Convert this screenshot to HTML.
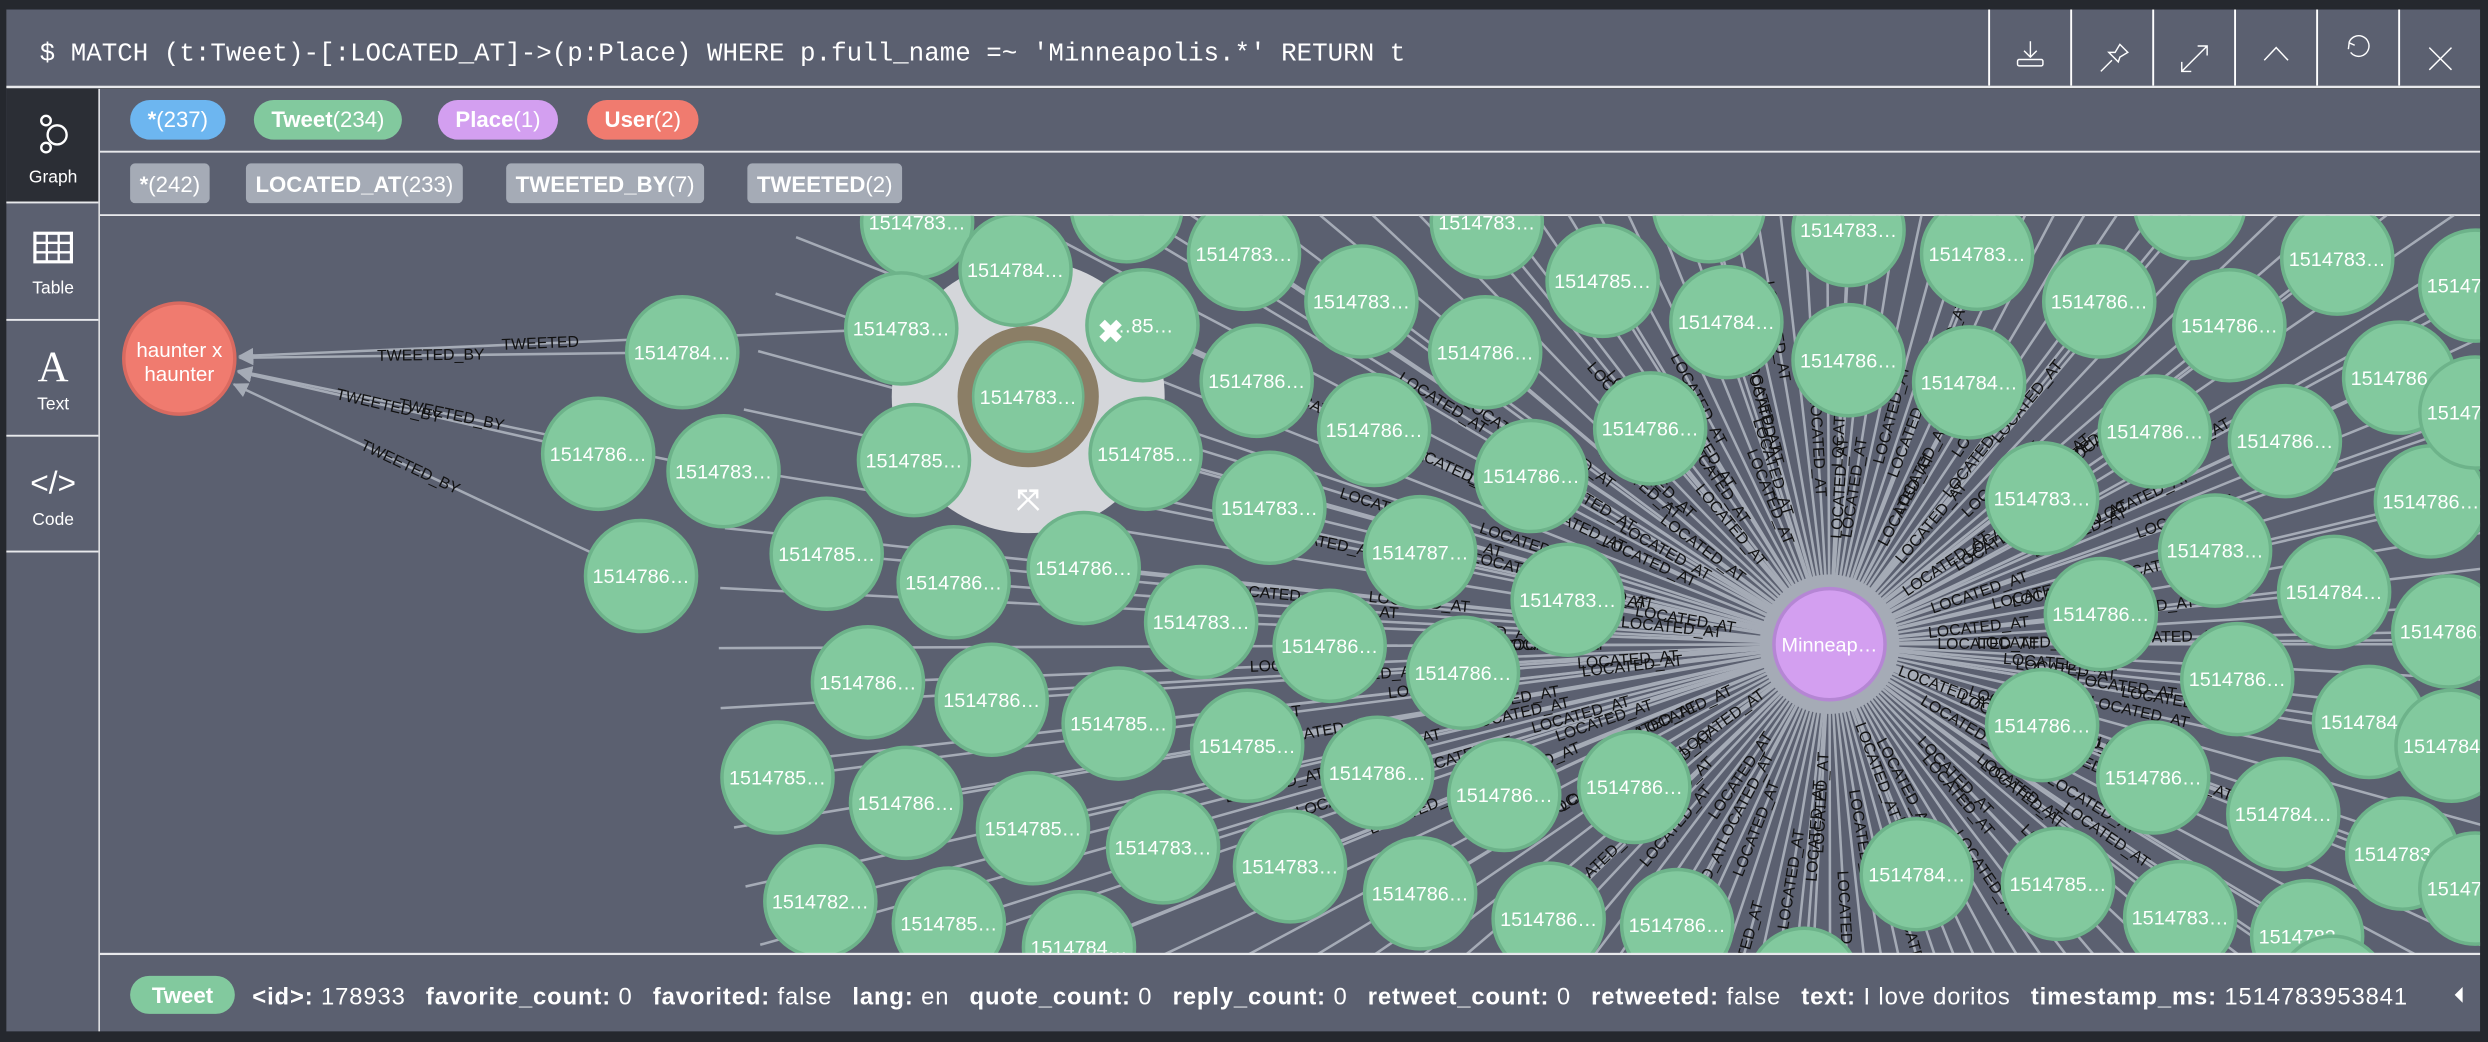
<!DOCTYPE html>
<html><head><meta charset="utf-8"><style>
html,body{margin:0;padding:0;background:#25282e;overflow:hidden;width:2488px;height:1042px}
svg{display:block;position:absolute;left:0;top:0}
text{font-family:"Liberation Sans",sans-serif}
</style></head><body>
<svg id="root" width="2488" height="1042" viewBox="0 0 1568 656.7" preserveAspectRatio="none" xmlns="http://www.w3.org/2000/svg">
<defs>
<clipPath id="gclip"><rect x="63" y="136" width="1500" height="465"/></clipPath>
<marker id="arr" viewBox="0 0 10 10" refX="9" refY="5" markerWidth="6" markerHeight="6" orient="auto"><path d="M0,0L10,5L0,10z" fill="#a5abb6"/></marker>
</defs>
<rect x="0" y="0" width="1568" height="657" fill="#25282e"/>
<g>
<rect x="4" y="6" width="1559" height="48" fill="#5b6070"/>
<text x="25" y="38" fill="#fff" font-size="16.3" style="font-family:'Liberation Mono',monospace">$ MATCH (t:Tweet)-[:LOCATED_AT]-&gt;(p:Place) WHERE p.full_name =~ 'Minneapolis.*' RETURN t</text>
<g stroke="#fff" stroke-width="1.2">
<line x1="1253.6" y1="6" x2="1253.6" y2="54"/><line x1="1305.3" y1="6" x2="1305.3" y2="54"/><line x1="1357" y1="6" x2="1357" y2="54"/><line x1="1408.6" y1="6" x2="1408.6" y2="54"/><line x1="1460.3" y1="6" x2="1460.3" y2="54"/><line x1="1512" y1="6" x2="1512" y2="54"/>
</g>
<g fill="none" stroke="#fff" stroke-width="0.9">
<g><path d="M1279.6,26V36M1275.6,32L1279.6,36L1283.6,32"/><rect x="1271.5" y="37.5" width="16" height="4" rx="1"/></g>
<g><path d="M1324,45L1331,38M1329,33L1335,39L1336,36L1341,33L1336,28L1333,33Z"/></g>
<g><path d="M1375,45L1391,29M1385,29H1391V35M1375,39V45H1381"/></g>
<g><path d="M1427,38L1434.5,30L1442,38"/></g>
<g><circle cx="1486.5" cy="29" r="6.5" stroke-dasharray="34 8" transform="rotate(200 1486.5 29)"/><path d="M1480,31L1480.5,27L1484,28.5"/></g>
<g><path d="M1531,30L1545,44M1545,30L1531,44"/></g>
</g>
</g>
<rect x="4" y="54" width="1559" height="1.6" fill="#e8e9ec"/>
<g>
<rect x="4" y="56" width="58" height="594" fill="#5b6070"/>
<rect x="4" y="56" width="58" height="71" fill="#2b2e35"/>
<g fill="#e8e9ec"><rect x="4" y="127" width="58" height="1.2"/><rect x="4" y="201" width="58" height="1.2"/><rect x="4" y="274" width="58" height="1.2"/><rect x="4" y="347" width="58" height="1.2"/></g>
<rect x="62" y="56" width="1" height="594" fill="#e8e9ec"/>
<g><g fill="none" stroke="#fff" stroke-width="1.5"><circle cx="29" cy="76" r="3"/><circle cx="36" cy="85" r="6"/><circle cx="29" cy="93" r="3"/></g><text x="33.5" y="115" fill="#fff" font-size="11" text-anchor="middle">Graph</text></g>
<g><rect x="22" y="147" width="23" height="18" fill="none" stroke="#fff" stroke-width="2"/><path d="M22,153H45M22,159H45M29.5,147V165M37,147V165" stroke="#fff" stroke-width="1.5"/><text x="33.5" y="185" fill="#fff" font-size="11" text-anchor="middle">Table</text></g>
<g><text x="33.5" y="240" fill="#fff" font-size="27" text-anchor="middle" style="font-family:'Liberation Serif',serif">A</text><text x="33.5" y="258" fill="#fff" font-size="11" text-anchor="middle">Text</text></g>
<g><text x="33.5" y="311" fill="#fff" font-size="20" text-anchor="middle">&lt;/&gt;</text><text x="33.5" y="331" fill="#fff" font-size="11" text-anchor="middle">Code</text></g>
</g>
<rect x="63" y="56" width="1500" height="80" fill="#5b6070"/>
<rect x="63" y="95" width="1500" height="1.2" fill="#e8e9ec"/>
<rect x="63" y="135" width="1500" height="1.2" fill="#e8e9ec"/>
<g id="pills"></g>
<rect x="63" y="136.2" width="1500" height="465" fill="#5b6070"/>
<g clip-path="url(#gclip)">
<g id="rays"></g>
<g id="edges"></g>
<g id="elabels"></g>
<circle cx="648" cy="250" r="86" fill="#d4d6da"/>
<circle cx="1153" cy="406" r="44" fill="#a5abb6"/>
<g id="nodes"></g>
<g><circle cx="648" cy="250" r="40" fill="none" stroke="#8b7e66" stroke-width="9"/></g>
<text x="700" y="216" fill="#fff" font-size="20" font-weight="bold" text-anchor="middle">✖</text>
<text x="648" y="321" fill="#fff" font-size="18" font-weight="bold" text-anchor="middle">⤧</text>
</g>
<rect x="63" y="600.5" width="1500" height="1.5" fill="#e8e9ec"/>
<g>
<rect x="63" y="602" width="1500" height="48" fill="#5b6070"/>
<rect x="82" y="615" width="66" height="24" rx="12" fill="#82c99e"/>
<text x="115" y="632" fill="#fff" font-size="14" font-weight="bold" text-anchor="middle">Tweet</text>
<text x="159" y="633" fill="#fff" font-size="15" textLength="1358" lengthAdjust="spacing"><tspan font-weight="bold">&lt;id&gt;:</tspan> 178933 <tspan font-weight="bold" dx="8">favorite_count:</tspan> 0 <tspan font-weight="bold" dx="8">favorited:</tspan> false <tspan font-weight="bold" dx="8">lang:</tspan> en <tspan font-weight="bold" dx="8">quote_count:</tspan> 0 <tspan font-weight="bold" dx="8">reply_count:</tspan> 0 <tspan font-weight="bold" dx="8">retweet_count:</tspan> 0 <tspan font-weight="bold" dx="8">retweeted:</tspan> false <tspan font-weight="bold" dx="8">text:</tspan> I love doritos <tspan font-weight="bold" dx="8">timestamp_ms:</tspan> 1514783953841</text>
<path d="M1552,622L1547,627L1552,632Z" fill="#fff"/>
</g>
</svg>
<script>
const NS="http://www.w3.org/2000/svg";
const labelNames=["*","Tweet","Place","User"];
const labelCounts=[237,234,1,2];
const labelColors=["#6db6f0","#82c99e","#d39ff0","#f07b6f"];
const labelX=[82,160,276,370];
const relNames=["*","LOCATED_AT","TWEETED_BY","TWEETED"];
const relCounts=[242,233,7,2];
const relX=[82,155,319,471];
const nodeX=[578,640,568,710,720,648,430,377,456,576,722,404,521,601,683,757,800,792,784,858,937,936,866,895,838,965,1010,1088,1040,1077,1165,1165,1246,1241,1323,1380,1473,1405,1512,1358,1440,1287,1396,1532,1324,1471,1543,1410,1287,1493,1357,1545,1439,1514,1208,1297,1374,1454,988,922,547,625,705,786,868,948,1030,490,571,651,733,813,895,976,1057,517,598,680,1137,1560,1560,1560,1470];
const nodeY=[140,170,207,130,205,250,222,286,297,290,286,363,349,367,358,392,320,240,160,190,140,222,271,348,407,300,177,203,270,130,145,227,160,241,190,128,163,205,238,272,278,314,347,316,387,373,398,428,457,455,490,470,513,538,551,557,578,590,378,424,430,441,456,470,487,501,496,490,506,522,534,546,563,579,583,568,582,597,620,180,260,560,625];
const nodeLabel=["1514783…","1514784…","1514783…","1514785…","…85…","1514783…","1514784…","1514786…","1514783…","1514785…","1514785…","1514786…","1514785…","1514786…","1514786…","1514783…","1514783…","1514786…","1514783…","1514783…","1514783…","1514786…","1514786…","1514787…","1514786…","1514786…","1514785…","1514784…","1514786…","1514786…","1514783…","1514786…","1514783…","1514784…","1514786…","1514786…","1514783…","1514786…","1514786…","1514786…","1514786…","1514783…","1514783…","1514786…","1514786…","1514784…","1514786…","1514786…","1514786…","1514784…","1514786…","1514784…","1514784…","1514783…","1514784…","1514785…","1514783…","1514783…","1514783…","1514786…","1514786…","1514786…","1514785…","1514785…","1514786…","1514786…","1514786…","1514785…","1514786…","1514785…","1514783…","1514783…","1514786…","1514786…","1514786…","1514782…","1514785…","1514784…","1514785…","1514786…","1514786…","1514784…","1514783…"];
const byIdx=[6,7,11,8,2];
const byLabel=["TWEETED_BY","TWEETED_BY","TWEETED_BY","TWEETED_BY","TWEETED"];
const rayAngles=[];
for(let a=0;a<360;a+=3.1)rayAngles.push(a);
const placeX=1153,placeY=406,userX=113,userY=226,R=35;
function mk(tag,attrs,parent){const e=document.createElementNS(NS,tag);for(const k in attrs)e.setAttribute(k,attrs[k]);parent.appendChild(e);return e;}
const pills=document.getElementById('pills');
labelNames.forEach((n,i)=>{
  const g=mk('g',{},pills);
  
  
  const t=mk('text',{x:labelX[i]+11,y:80,fill:'#fff','font-size':14},g);
  t.innerHTML='<tspan font-weight="bold">'+n+'</tspan>('+labelCounts[i]+')';
  const w=t.getComputedTextLength()+22;
  const r=mk('rect',{x:labelX[i],y:63,width:w,height:25,rx:12.5,fill:labelColors[i]},g);
  g.insertBefore(r,t);
});
relNames.forEach((n,i)=>{
  const g=mk('g',{},pills);
  
  
  const t=mk('text',{x:relX[i]+6,y:121,fill:'#fff','font-size':14},g);
  t.innerHTML='<tspan font-weight="bold">'+n+'</tspan>('+relCounts[i]+')';
  const w=t.getComputedTextLength()+12;
  const r=mk('rect',{x:relX[i],y:103,width:w,height:25,rx:3,fill:'#a5abb6'},g);
  g.insertBefore(r,t);
});
const rays=document.getElementById('rays'),edges=document.getElementById('edges'),el=document.getElementById('elabels'),nodes=document.getElementById('nodes');
function label(x1,y1,x2,y2,txt,t){
  let ang=Math.atan2(y2-y1,x2-x1)*180/Math.PI;if(ang>90)ang-=180;if(ang<-90)ang+=180;
  const mx=x1+(x2-x1)*t,my=y1+(y2-y1)*t;
  const e=mk('text',{x:mx,y:my+3,'font-size':10,fill:'#111','text-anchor':'middle',transform:`rotate(${ang} ${mx} ${my})`},el);
  e.textContent=txt;
  
  
}
rayAngles.forEach((a,i)=>{
  const r=a*Math.PI/180,x2=placeX+Math.cos(r)*700,y2=placeY+Math.sin(r)*700;
  const l=mk('line',{x1:placeX,y1:placeY,x2:x2,y2:y2,stroke:'#a5abb6','stroke-width':1.6},rays);
  
  
  if(i%2===0)label(placeX+Math.cos(r)*100,placeY+Math.sin(r)*100,placeX+Math.cos(r)*200,placeY+Math.sin(r)*200,'LOCATED_AT',(i%5)/4);
});
nodeX.forEach((x,i)=>{
  if(byIdx.indexOf(i)>=0)return;
  const y=nodeY[i];
  const l=mk('line',{x1:x,y1:y,x2:placeX,y2:placeY,stroke:'#a5abb6','stroke-width':1.6},edges);
  
  
  if(Math.hypot(x-placeX,y-placeY)>110)label(x,y,placeX,placeY,'LOCATED_AT',0.45);
});
byIdx.forEach((k,i)=>{
  const x=nodeX[k],y=nodeY[k],d=Math.hypot(x-userX,y-userY);
  const ex=userX+(x-userX)/d*(R+3),ey=userY+(y-userY)/d*(R+3);
  const l=mk('line',{x1:x,y1:y,x2:ex,y2:ey,stroke:'#a5abb6','stroke-width':1.6,'marker-end':'url(#arr)'},edges);
  
  
  label(x,y,userX,userY,byLabel[i],0.5);
});
nodeX.forEach((x,i)=>{
  const y=nodeY[i];
  const g=mk('g',{},nodes);
  
  
  mk('circle',{cx:x,cy:y,r:R,fill:'#82c99e',stroke:'#6db38a','stroke-width':2.2},g);
  const t=mk('text',{x:x,y:y+4.5,'font-size':12.5,fill:'#fff','text-anchor':'middle'},g);
  t.textContent=nodeLabel[i];
});
const pg=mk('g',{},nodes);


mk('circle',{cx:placeX,cy:placeY,r:35,fill:'#d39ff0',stroke:'#b586d4','stroke-width':2.2},pg);
mk('text',{x:placeX,y:placeY+4.5,'font-size':12.5,fill:'#fff','text-anchor':'middle'},pg).textContent='Minneap…';
const ug=mk('g',{},nodes);


mk('circle',{cx:userX,cy:userY,r:35,fill:'#f07b6f',stroke:'#d96a60','stroke-width':2.2},ug);
mk('text',{x:userX,y:userY-1,'font-size':13,fill:'#fff','text-anchor':'middle'},ug).textContent='haunter x';
mk('text',{x:userX,y:userY+14,'font-size':13,fill:'#fff','text-anchor':'middle'},ug).textContent='haunter';
</script>
</body></html>
